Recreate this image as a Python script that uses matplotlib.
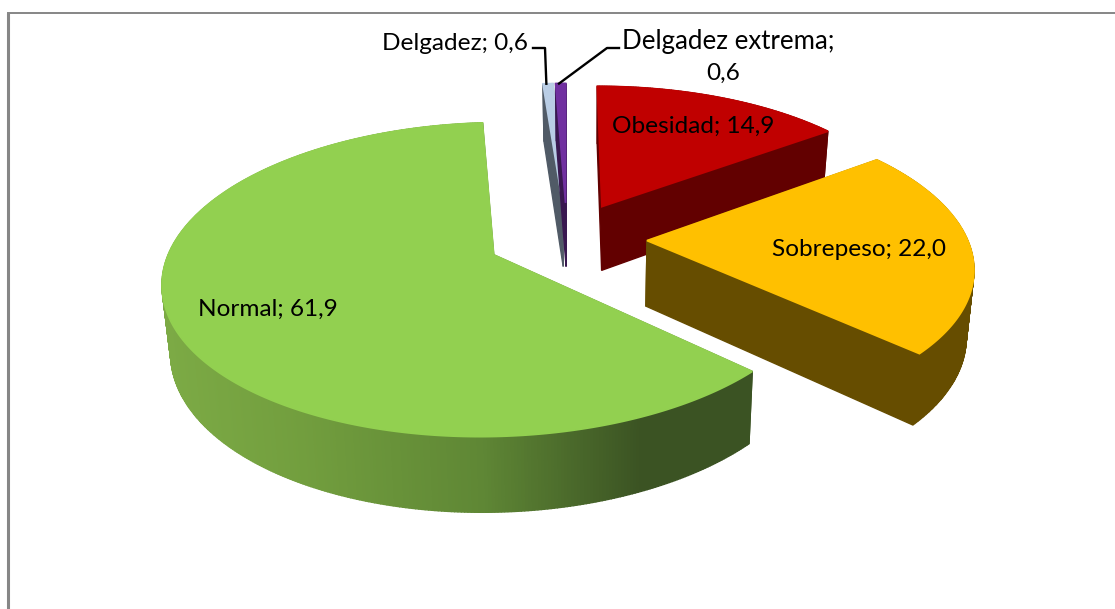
import numpy as np
import matplotlib
matplotlib.use("Agg")
import matplotlib.pyplot as plt
from matplotlib.patches import Polygon

labels = ["Obesidad", "Sobrepeso", "Normal", "Delgadez", "Delgadez extrema"]
values = [14.9, 22.0, 61.9, 0.6, 0.6]
top_colors = ["#C00000", "#FFC000", "#92D050", "#B9CDE5", "#7030A0"]
side_colors = ["#620000", "#664D00", "#3B5323", "#505A66", "#391850"]

# projection of the tilted pie, in pixels of the 1115x609 picture
CX, CY = 567, 238.5
AX, BY, PERSP = 320, 148, 0.155
EXPLODE = 0.25

plt.rcParams["font.family"] = ["Lato", "DejaVu Sans"]
plt.rcParams["font.size"] = 17.6


def project(x, y):
    d = 1 + PERSP * y
    return CX + AX * x / d, CY - BY * y / d


def lower(px, py):
    # same outline, on the underside of the disc
    return px + 0.02 * (590 - px), 1.052 * py + 53


def wedge(start, end, r=1.0):
    mid = np.radians((start + end) / 2)
    ox, oy = EXPLODE * np.sin(mid), EXPLODE * np.cos(mid)
    th = np.radians(np.linspace(start, end, max(int(end - start) * 2, 3)))
    xs = np.r_[ox, ox + r * np.sin(th)]
    ys = np.r_[oy, oy + r * np.cos(th)]
    return project(xs, ys)


def green_side(px):
    stops = [165, 300, 480, 640, 760]
    r = np.interp(px, stops, [0x7C, 0x72, 0x5F, 0x3B, 0x3B])
    g = np.interp(px, stops, [0xAA, 0x9E, 0x87, 0x53, 0x53])
    b = np.interp(px, stops, [0x45, 0x3E, 0x35, 0x23, 0x23])
    return (r / 255, g / 255, b / 255)


fig = plt.figure(figsize=(11.15, 6.09), dpi=100)
ax = fig.add_axes([0, 0, 1, 1])
ax.set_xlim(0, 1115)
ax.set_ylim(609, 0)
ax.axis("off")

# frame of the chart area, cut by the picture on the right and at the bottom
ax.plot([7.5, 7.5], [609, 13], color="#868686", lw=2.2, solid_capstyle="butt")
ax.plot([7, 1115], [13, 13], color="#868686", lw=1.4, solid_capstyle="butt")

edges = np.r_[0, np.cumsum(values)] / sum(values) * 360
for i in [3, 4, 0, 1, 2]:
    px, py = wedge(edges[i], edges[i + 1])
    qx, qy = lower(px, py)
    n = len(px)
    for j in range(n):
        k = (j + 1) % n
        c = side_colors[i]
        if labels[i] == "Normal" and j > 0 and k > 0:
            c = green_side((px[j] + px[k]) / 2)
        ax.add_patch(Polygon([(px[j], py[j]), (px[k], py[k]), (qx[k], qy[k]), (qx[j], qy[j])],
                             closed=True, fc=c, ec=c, lw=1.0))
    # a bit wider than the sides so no dark rim shows along the back edges
    ax.add_patch(Polygon(np.c_[px, py], closed=True, fc=top_colors[i], ec=top_colors[i], lw=1.3))

# leader lines for the two thin slices
px, py = wedge(edges[3], edges[4])
ax.plot([533, 545, px[len(px) // 2]], [48, 48, py[len(px) // 2]], color="black", lw=1.7)
px, py = wedge(edges[4], edges[5])
ax.plot([619, 607, px[len(px) // 2]], [48, 48, py[len(px) // 2]], color="black", lw=1.7)

ax.text(612, 126.5, f"{labels[0]}; 14,9", va="center", ha="left")
ax.text(772, 249, f"{labels[1]}; 22,0", va="center", ha="left")
ax.text(198, 309.5, f"{labels[2]}; 61,9", va="center", ha="left")
ax.text(382, 43, f"{labels[3]}; 0,6", va="center", ha="left")
ax.text(622, 42, f"{labels[4]};", va="center", ha="left", fontsize=18.6)
ax.text(723, 73, "0,6", va="center", ha="center")

fig.savefig("out.png", dpi=100)
